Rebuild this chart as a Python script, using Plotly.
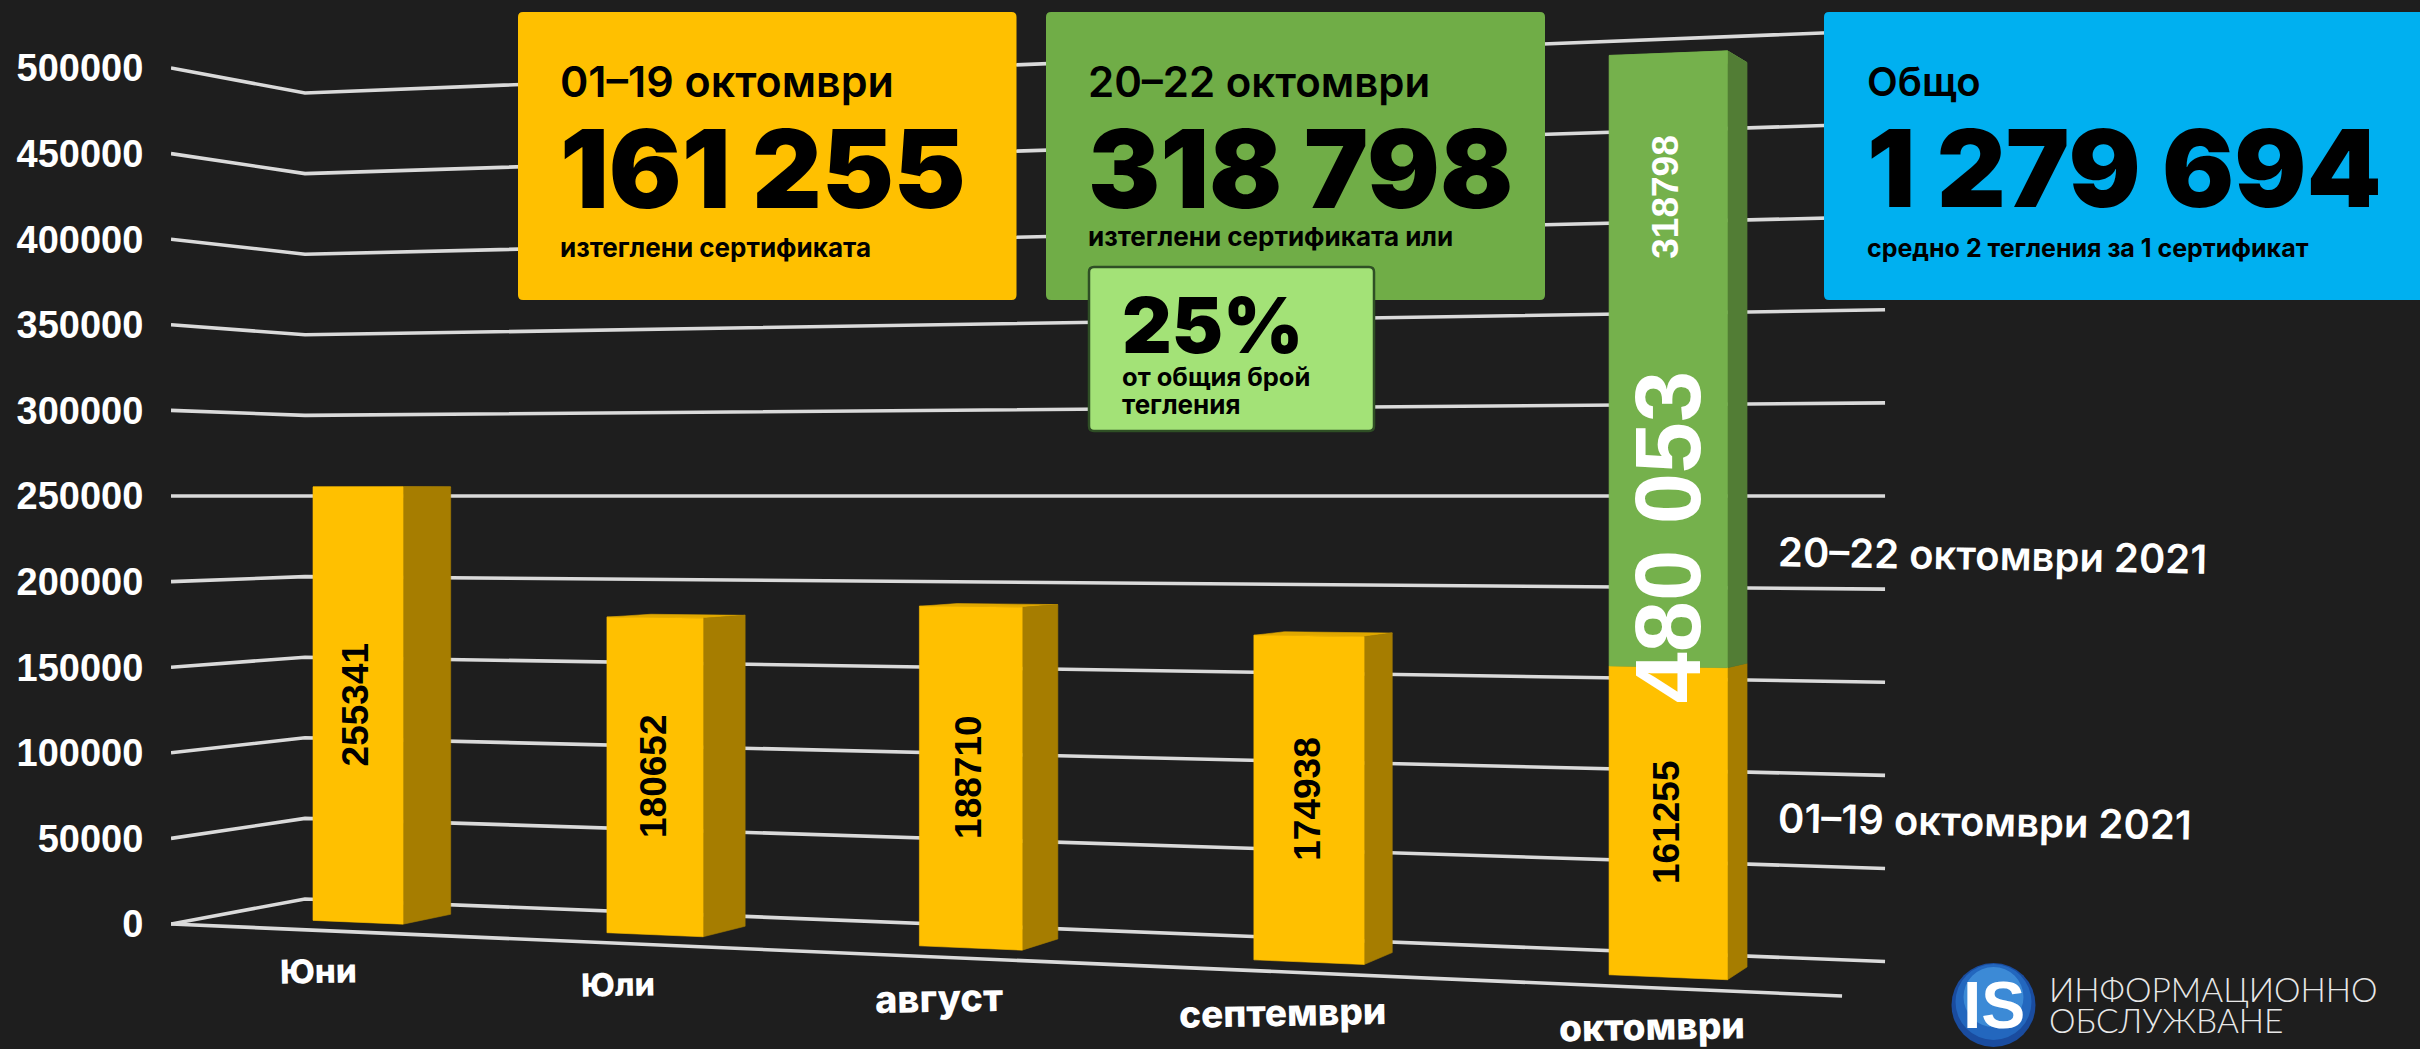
import plotly.graph_objects as go

# ---------- data ----------
categories = ["Юни", "Юли", "август", "септември", "октомври"]
values_base = [255341, 180652, 188710, 174938, 161255]
values_stack = [0, 0, 0, 0, 318798]
total_october = 480053
y_ticks = [0, 50000, 100000, 150000, 200000, 250000, 300000, 350000, 400000, 450000, 500000]
stack_labels = ["01–19 октомври 2021", "20–22 октомври 2021"]

# ---------- page / colours ----------
W, H = 2420, 1049
BG = "#1E1E1E"
GRID = "#DADADA"
YEL, YEL_SIDE, YEL_TOP = "#FFC000", "#A67D00", "#E0A800"
GRN, GRN_SIDE = "#75B14C", "#527D35"
BODY = "Inter"
NUM = "Liberation Sans"
CAT_SIZES = [33, 32, 38, 37, 37]
CAT_LIFT = [41, 41, 41, 41, 39]
BAR_SHIFT = [0.003, 0.004, 0.004, 0.004, 0.002]

# ---------- perspective scale ----------
# floor homography (u along categories, d depth) + vertical scale about the horizon value
A, B, C0 = 1375.4, 152.9, 171.0
D, E, F0 = -87.9, 30.7, 924.0
G, K = -0.1605, 0.06196
HORIZON_PX = 496.0
HORIZON_VAL = 250000.0
PX_PER_VAL = (F0 - HORIZON_PX) / HORIZON_VAL


def px_to_axis(py):
    return (F0 - py) / PX_PER_VAL


def project(u, d, val):
    den = G * u + K * d + 1
    x = (A * u + B * d + C0) / den
    y0 = (D * u + E * d + F0) / den
    y = HORIZON_PX + (y0 - HORIZON_PX) * (1 - val / HORIZON_VAL)
    return x, px_to_axis(y)


fig = go.Figure()


def poly(pts, color):
    xs = [p[0] for p in pts] + [pts[0][0]]
    ys = [p[1] for p in pts] + [pts[0][1]]
    fig.add_trace(go.Scatter(x=xs, y=ys, mode="lines", fill="toself", fillcolor=color,
                             line=dict(width=0.6, color=color), hoverinfo="skip", showlegend=False))


# gridlines on the side wall and the back wall
for t in y_ticks:
    pts = [project(0, 0, t), project(0, 1, t), project(1, 1, t)]
    fig.add_trace(go.Scatter(x=[p[0] for p in pts], y=[p[1] for p in pts], mode="lines",
                             line=dict(color=GRID, width=3.6), hoverinfo="skip", showlegend=False))
# front floor edge
pts = [project(0, 0, 0), project(1, 0, 0)]
fig.add_trace(go.Scatter(x=[p[0] for p in pts], y=[p[1] for p in pts], mode="lines",
                         line=dict(color=GRID, width=3.6), hoverinfo="skip", showlegend=False))

HALF_W, D_FRONT, D_BACK = 0.0315, 0.30, 0.68
annotations = []


def note(px, py, text, size, color="#000000", weight=700, family=BODY, anchor="left", angle=0):
    annotations.append(dict(x=px, y=1 - py / H, xref="x", yref="paper", text=text, showarrow=False,
                            xanchor=anchor, yanchor="middle", align="left", textangle=angle,
                            font=dict(family=family, size=size, color=color, weight=weight)))


def bar_note(x, y, text, size, color="#000000"):
    annotations.append(dict(x=x, y=y, xref="x", yref="y", text=text, showarrow=False, textangle=-90,
                            xanchor="center", yanchor="middle",
                            font=dict(family=NUM, size=size, color=color, weight=700)))


for i, (cat, v1, v2) in enumerate(zip(categories, values_base, values_stack)):
    c = (i + 0.5) / len(categories) + BAR_SHIFT[i]
    l, r = c - HALF_W, c + HALF_W
    total = v1 + v2
    # top face
    poly([project(l, D_FRONT, total), project(r, D_FRONT, total),
          project(r, D_BACK, total), project(l, D_BACK, total)], YEL_TOP if v2 == 0 else GRN)
    # side faces
    poly([project(r, D_FRONT, 0), project(r, D_BACK, 0), project(r, D_BACK, v1), project(r, D_FRONT, v1)], YEL_SIDE)
    if v2:
        poly([project(r, D_FRONT, v1), project(r, D_BACK, v1),
              project(r, D_BACK, total), project(r, D_FRONT, total)], GRN_SIDE)
    # front faces
    poly([project(l, D_FRONT, 0), project(r, D_FRONT, 0), project(r, D_FRONT, v1), project(l, D_FRONT, v1)], YEL)
    if v2:
        poly([project(l, D_FRONT, v1), project(r, D_FRONT, v1),
              project(r, D_FRONT, total), project(l, D_FRONT, total)], GRN)
    # value labels
    x_mid, y_mid = project(c, D_FRONT, v1 / 2)
    bar_note(x_mid - 2, y_mid, str(v1), 37)
    if v2:
        xm, ym = project(c, D_FRONT, v1 + 0.766 * v2)
        bar_note(xm - 2, ym, str(v2), 37, "#FFFFFF")
        xm, ym = project(c, D_FRONT, 0.477 * total_october)
        bar_note(xm, ym, f"{total_october:,}".replace(",", " "), 92, "#FFFFFF")
    # category labels under the front floor edge
    xc, yc = project((i + 0.5) / len(categories), 0, 0)
    annotations.append(dict(x=xc + 5, y=yc, xref="x", yref="y", yshift=-CAT_LIFT[i], text=cat, showarrow=False,
                            xanchor="center", yanchor="middle", textangle=-1,
                            font=dict(family=BODY, size=CAT_SIZES[i], color="#FFFFFF", weight=800)))


# ---------- cards ----------
def card(x0, x1, y0, y1, fill, line=None, r=5):
    t0, t1 = 1 - y0 / H, 1 - y1 / H
    ry = r / H
    path = (f"M{x0 + r},{t0} L{x1 - r},{t0} Q{x1},{t0} {x1},{t0 - ry} L{x1},{t1 + ry} Q{x1},{t1} {x1 - r},{t1} "
            f"L{x0 + r},{t1} Q{x0},{t1} {x0},{t1 + ry} L{x0},{t0 - ry} Q{x0},{t0} {x0 + r},{t0} Z")
    return dict(type="path", path=path, xref="x", yref="paper", fillcolor=fill, layer="above",
                line=dict(width=2.5 if line else 0, color=line or fill))


shapes = [
    card(518, 1016.5, 12, 300, "#FFC000"),
    card(1046, 1545, 12, 300, "#70AD47"),
    card(1824, W + 20, 12, 300, "#00B0F0"),
    card(1089, 1374, 267, 431, "#A3E277", line="#2F4F25"),
]

# logo disc (stacked circles for the glossy look)
for r_, cy_, col in [(42, 1005, "#1A4C9F"), (38, 1002, "#2367BE"), (30, 997, "#3C8AD6")]:
    shapes.append(dict(type="circle", xref="x", yref="paper", x0=1993.5 - r_, x1=1993.5 + r_,
                       y0=1 - (cy_ + r_) / H, y1=1 - (cy_ - r_) / H, fillcolor=col, line=dict(width=0), layer="above"))

note(558, 81, "01–19 октомври", 43, weight=600)
note(558, 168, "161 255", 108, weight=900)
note(558, 248, "изтеглени сертификата", 26, weight=700)

note(1086, 81, "20–22 октомври", 42, weight=600)
note(1086, 168, "318 798", 108, weight=900)
note(1086, 237, "изтеглени сертификата или", 26, weight=700)

note(1865, 81, "Общо", 40, weight=600)
note(1865, 168, "1 279 694", 107, weight=900)
note(1865, 248, "средно 2 тегления за 1 сертификат", 25, weight=700)

note(1120, 325, "25%", 77, weight=900)
note(1120, 377, "от общия брой", 25.5, weight=700)
note(1120, 404, "тегления", 26, weight=700)

note(1776, 555, stack_labels[1], 40, color="#FFFFFF", weight=600, angle=1)
note(1776, 821, stack_labels[0], 40, color="#FFFFFF", weight=600, angle=1)

note(1993.5, 1005, "IS", 66, color="#FFFFFF", weight=700, family=NUM, anchor="center")
note(2047, 989, "ИНФОРМАЦИОННО", 33.5, color="#E8E8E8", weight=300, family="Lato")
note(2047, 1020, "ОБСЛУЖВАНЕ", 33.5, color="#E8E8E8", weight=300, family="Lato")

fig.update_layout(
    width=W, height=H, autosize=False, paper_bgcolor=BG, plot_bgcolor=BG,
    margin=dict(l=171, r=0, t=0, b=0, pad=0), showlegend=False, hovermode=False,
    xaxis=dict(range=[171, W], visible=False, fixedrange=True),
    yaxis=dict(range=[px_to_axis(H), px_to_axis(0)], tickmode="array", tickvals=y_ticks,
               ticktext=[str(t) for t in y_ticks], showgrid=False, zeroline=False, showline=False,
               ticks="outside", ticklen=19, tickcolor="rgba(0,0,0,0)", fixedrange=True,
               tickfont=dict(family=NUM, size=38, color="#FFFFFF", weight=700)),
    shapes=shapes, annotations=annotations,
)

fig.write_html("out.html", config={"displayModeBar": False},
               post_script="document.body.style.margin='0';document.body.style.overflow='hidden';document.body.style.background='#1E1E1E';")
